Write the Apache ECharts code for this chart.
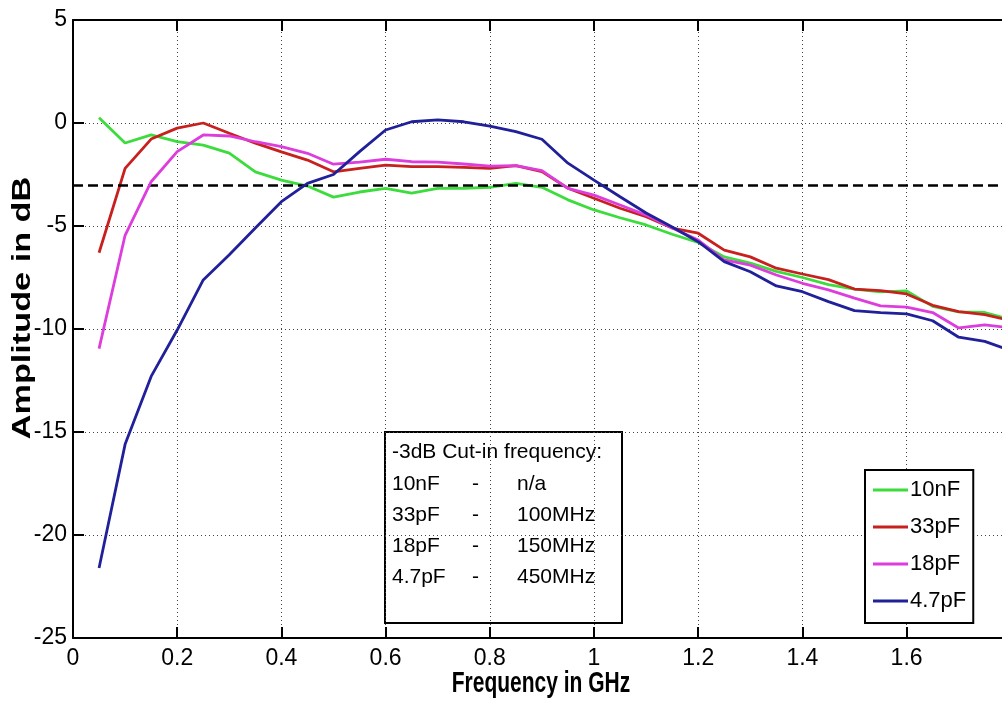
<!DOCTYPE html>
<html>
<head>
<meta charset="utf-8">
<script src="https://cdn.jsdelivr.net/npm/echarts@6/dist/echarts.min.js"></script>
<style>
html,body{margin:0;padding:0;background:#fff;}
#c{width:1002px;height:704px;}
</style>
</head>
<body>
<div id="c"></div>
<script>
// ---- data ----
const freqGHz = [0.05,0.1,0.15,0.2,0.25,0.3,0.35,0.4,0.45,0.5,0.55,0.6,0.65,0.7,0.75,0.8,0.85,0.9,0.95,1.0,
                 1.05,1.1,1.15,1.2,1.25,1.3,1.35,1.4,1.45,1.5,1.55,1.6,1.65,1.7,1.75,1.8];
const seriesNames = ['10nF','33pF','18pF','4.7pF'];
const amp10nF = [0.25,-0.97,-0.58,-0.9,-1.07,-1.46,-2.37,-2.77,-3.06,-3.6,-3.35,-3.17,-3.4,-3.17,-3.17,-3.12,-2.93,-3.12,-3.73,-4.22,
                 -4.6,-4.95,-5.4,-5.8,-6.5,-6.8,-7.2,-7.5,-7.85,-8.06,-8.2,-8.15,-8.9,-9.17,-9.2,-9.55];
const amp33pF = [-6.3,-2.2,-0.78,-0.25,0,-0.5,-0.98,-1.4,-1.8,-2.37,-2.2,-2.04,-2.12,-2.12,-2.15,-2.2,-2.07,-2.36,-3.17,-3.65,
                 -4.14,-4.55,-5.1,-5.35,-6.17,-6.5,-7.05,-7.33,-7.6,-8.06,-8.14,-8.3,-8.85,-9.16,-9.3,-9.6];
const amp18pF = [-10.95,-5.45,-2.85,-1.39,-0.58,-0.63,-0.91,-1.15,-1.47,-2.0,-1.9,-1.76,-1.88,-1.9,-1.99,-2.09,-2.07,-2.31,-3.17,-3.5,
                 -3.98,-4.47,-5.1,-5.68,-6.65,-6.9,-7.38,-7.78,-8.1,-8.5,-8.88,-8.94,-9.2,-9.95,-9.8,-9.95];
const amp4p7pF = [-21.6,-15.6,-12.3,-10.05,-7.62,-6.4,-5.1,-3.82,-2.93,-2.5,-1.39,-0.34,0.06,0.15,0.06,-0.15,-0.42,-0.79,-1.95,-2.77,
                  -3.58,-4.37,-5.05,-5.76,-6.73,-7.22,-7.91,-8.19,-8.67,-9.11,-9.21,-9.27,-9.6,-10.4,-10.6,-11.05];
const cutInThreshold = -3;
const xTicks = {min:0, max:2, step:0.2, lastShown:1.6};
const yTicks = {min:-25, max:5, step:5};
const noteLines = [
  ['-3dB Cut-in frequency:','',''],
  ['10nF','-','n/a'],
  ['33pF','-','100MHz'],
  ['18pF','-','150MHz'],
  ['4.7pF','-','450MHz']
];
const xTitle = 'Frequency in GHz';
const yTitle = 'Amplitude in dB';

// ---- chart ----
const colors = ['#3ddc3d','#c8201e','#dd3ddd','#20209a'];
const allAmps = [amp10nF, amp33pF, amp18pF, amp4p7pF];
const tickFont = "'Liberation Sans Narrow','Arial Narrow','Liberation Sans',Arial,sans-serif";
const font = "'Liberation Sans',Arial,sans-serif";

const series = seriesNames.map((n,i)=>({
  name:n, type:'line', showSymbol:false, symbol:'none',
  data: freqGHz.map((f,k)=>[f, allAmps[i][k]]),
  lineStyle:{color:colors[i], width:2.8}, itemStyle:{color:colors[i]},
  z: 3+i
}));
series[0].markLine = {
  silent:true, symbol:['none','none'], label:{show:false},
  lineStyle:{color:'#000', width:2.5, type:[10,5]},
  data:[{yAxis:cutInThreshold}]
};

const noteGraphics = [];
const noteX = [392, 472, 517];
const noteBase = [463, 494.5, 526, 557, 588];
noteLines.forEach((row,r)=>{
  row.forEach((t,c)=>{
    if(!t) return;
    noteGraphics.push({type:'text', x:noteX[c], y:noteBase[r], silent:true,
      style:{text:t, font:"21px "+font, fill:'#000', textAlign:'left', align:'left', textVerticalAlign:'bottom', verticalAlign:'bottom'}});
  });
});

const chart = echarts.init(document.getElementById('c'), null, {renderer:'canvas'});
chart.setOption({
  animation:false,
  backgroundColor:'#fff',
  grid:{left:73, top:20, width:1042, height:618, containLabel:false, outerBoundsMode:'none'},
  xAxis:[{
    type:'value', min:xTicks.min, max:xTicks.max, interval:xTicks.step,
    axisLine:{show:true, onZero:false, lineStyle:{color:'#000', width:2}},
    axisTick:{show:true, inside:true, length:11, lineStyle:{color:'#000', width:2}},
    axisLabel:{color:'#000', fontSize:23, fontFamily:tickFont, margin:9,
      formatter:(v)=> v > xTicks.lastShown + 1e-9 ? '' : String(+v.toFixed(1))},
    splitLine:{show:true, lineStyle:{color:'#444', width:1, type:[1,3]}}
  },{
    type:'value', position:'top', min:xTicks.min, max:xTicks.max, interval:xTicks.step,
    axisLine:{show:true, onZero:false, lineStyle:{color:'#000', width:2}},
    axisTick:{show:true, inside:true, length:11, lineStyle:{color:'#000', width:2}},
    axisLabel:{show:false}, splitLine:{show:false}
  }],
  yAxis:{
    type:'value', min:yTicks.min, max:yTicks.max, interval:yTicks.step,
    axisLine:{show:true, onZero:false, lineStyle:{color:'#000', width:2}},
    axisTick:{show:true, inside:true, length:11, lineStyle:{color:'#000', width:2}},
    axisLabel:{color:'#000', fontSize:23, fontFamily:tickFont, margin:6},
    splitLine:{show:true, lineStyle:{color:'#444', width:1, type:[1,3]}}
  },
  legend:{
    data:seriesNames, orient:'vertical', left:865, top:470,
    backgroundColor:'#fff', borderColor:'#000', borderWidth:2,
    padding:[9,7,11,8], itemGap:15, itemWidth:35, itemHeight:3, icon:'rect',
    textStyle:{color:'#000', fontSize:22, fontFamily:font, padding:[0,0,0,-3]},
    selectedMode:false
  },
  graphic:[
    {type:'text', x:541, y:684, silent:true, scaleX:0.70,
     style:{text:xTitle, font:"bold 30px "+font, fill:'#000', textAlign:'center', align:'center', textVerticalAlign:'middle', verticalAlign:'middle'}},
    {type:'text', x:23, y:308, rotation:Math.PI/2, scaleX:1.37, silent:true,
     style:{text:yTitle, font:"bold 25px "+font, fill:'#000', textAlign:'center', align:'center', textVerticalAlign:'middle', verticalAlign:'middle'}},
    {type:'rect', shape:{x:385, y:432, width:237, height:191}, silent:true,
     style:{fill:'none', stroke:'#000', lineWidth:2}}
  ].concat(noteGraphics),
  series:series
});
</script>
</body>
</html>
